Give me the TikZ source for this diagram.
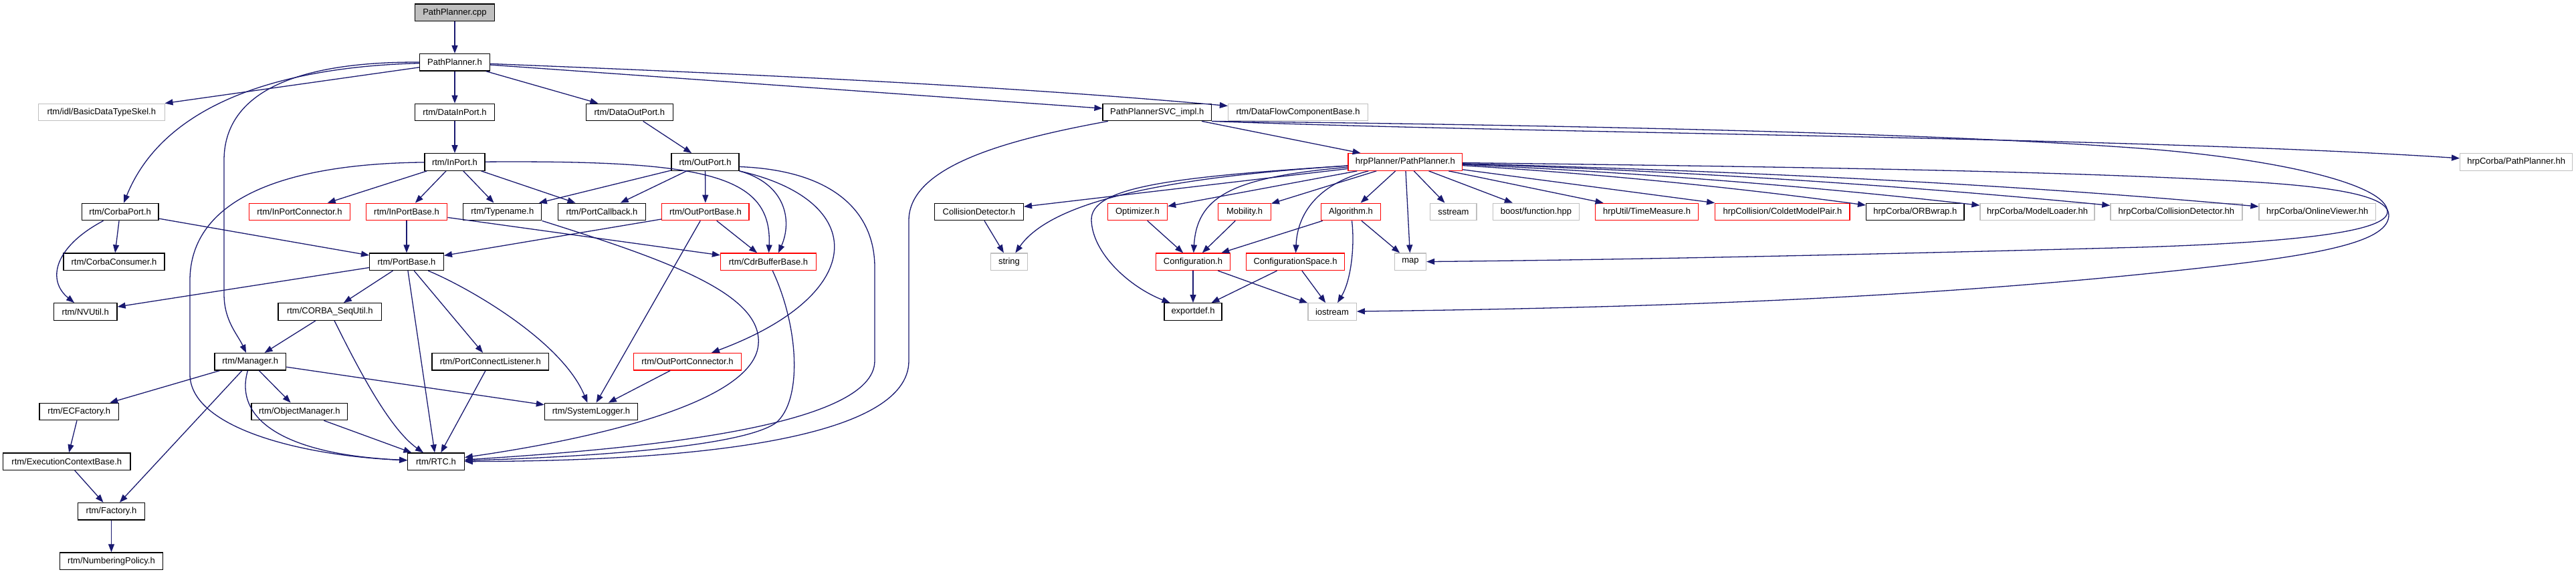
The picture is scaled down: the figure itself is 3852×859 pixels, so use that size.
\documentclass[tikz,border=0pt]{standalone}
\usepackage{fontspec}
\setmainfont{Liberation Sans}
\usetikzlibrary{arrows.meta}
\definecolor{edgecol}{HTML}{191970}
\definecolor{nodered}{HTML}{FF0000}
\definecolor{nodegray}{HTML}{BFBFBF}
\definecolor{rootfill}{HTML}{BFBFBF}
\tikzset{
  nd/.style={draw=black, line width=1.3pt, rectangle, minimum height=25.5pt, inner sep=0pt, fill=white, font=\fontsize{13pt}{15pt}\selectfont},
  rednd/.style={nd, draw=nodered},
  graynd/.style={nd, draw=nodegray},
  rootnd/.style={nd, fill=rootfill},
  edge/.style={draw=edgecol, line width=1.3pt, -{Triangle[length=12pt,width=9pt]}},
}
\begin{document}
\begin{tikzpicture}[x=1pt,y=-1pt]
\useasboundingbox (0,0) rectangle (3852,859);
\fill[white] (0,0) rectangle (3852,859);
% row 0-1
\node[rootnd, minimum width=119pt] (cpp) at (680,18.7) {PathPlanner.cpp};
\node[nd, minimum width=104.4pt] (pph) at (680,93.3) {PathPlanner.h};
% row 2
\node[graynd, minimum width=189.3pt] (basic) at (151.8,168) {rtm/idl/BasicDataTypeSkel.h};
\node[nd, minimum width=119pt] (datain) at (680,168) {rtm/DataInPort.h};
\node[nd, minimum width=130pt] (dataout) at (941.3,168) {rtm/DataOutPort.h};
\node[nd, minimum width=162.5pt] (svc) at (1730.3,168) {PathPlannerSVC\_impl.h};
\node[graynd, minimum width=209pt] (dfcb) at (1941,168) {rtm/DataFlowComponentBase.h};
% row 3
\node[nd, minimum width=90.2pt] (inport) at (680,242.5) {rtm/InPort.h};
\node[nd, minimum width=101pt] (outport) at (1054.5,242.5) {rtm/OutPort.h};
\node[rednd, minimum width=170.5pt] (hpp) at (2101.3,242.5) {hrpPlanner/PathPlanner.h};
\node[graynd, minimum width=168pt] (hcpp) at (3762.6,242.5) {hrpCorba/PathPlanner.hh};
% row 4
\node[nd, minimum width=114.7pt] (corbaport) at (179.7,317) {rtm/CorbaPort.h};
\node[rednd, minimum width=150.4pt] (ipconn) at (448,317) {rtm/InPortConnector.h};
\node[rednd, minimum width=121.5pt] (ipbase) at (608,317) {rtm/InPortBase.h};
\node[nd, minimum width=117pt] (typename) at (751.3,317) {rtm/Typename.h};
\node[nd, minimum width=130.4pt] (portcb) at (900,317) {rtm/PortCallback.h};
\node[rednd, minimum width=130.4pt] (opbase) at (1054.9,317) {rtm/OutPortBase.h};
\node[nd, minimum width=133pt] (colldet) at (1463.9,317) {CollisionDetector.h};
\node[rednd, minimum width=89.3pt] (optim) at (1700.9,317) {Optimizer.h};
\node[rednd, minimum width=78.6pt] (mobil) at (1861,317) {Mobility.h};
\node[rednd, minimum width=88.4pt] (algo) at (2020,317) {Algorithm.h};
\node[graynd, minimum width=69.2pt] (sstream) at (2173.4,317) {sstream};
\node[graynd, minimum width=129pt] (boost) at (2297,317) {boost/function.hpp};
\node[rednd, minimum width=154.5pt] (timem) at (2462.5,317) {hrpUtil/TimeMeasure.h};
\node[rednd, minimum width=201.3pt] (coldet) at (2665.4,317) {hrpCollision/ColdetModelPair.h};
\node[nd, minimum width=146.4pt] (orb) at (2863.8,317) {hrpCorba/ORBwrap.h};
\node[graynd, minimum width=171pt] (modell) at (3046.5,317) {hrpCorba/ModelLoader.hh};
\node[graynd, minimum width=197pt] (cdhh) at (3254.4,317) {hrpCorba/CollisionDetector.hh};
\node[graynd, minimum width=174.6pt] (ovhh) at (3465.3,317) {hrpCorba/OnlineViewer.hh};
% row 5
\node[nd, minimum width=151pt] (corbacons) at (170.5,391.8) {rtm/CorbaConsumer.h};
\node[nd, minimum width=110.7pt] (portbase) at (608,391.8) {rtm/PortBase.h};
\node[rednd, minimum width=143pt] (cdrbuf) at (1149,391.8) {rtm/CdrBufferBase.h};
\node[graynd, minimum width=55pt] (string) at (1509,391.8) {string};
\node[rednd, minimum width=110.7pt] (config) at (1784,391.8) {Configuration.h};
\node[rednd, minimum width=146.5pt] (cspace) at (1937,391.8) {ConfigurationSpace.h};
\node[graynd, minimum width=47pt] (map) at (2109,391.8) {map};
% row 6
\node[nd, minimum width=94.6pt] (nvutil) at (127.7,466.5) {rtm/NVUtil.h};
\node[nd, minimum width=154.5pt] (sequtil) at (493.3,466.5) {rtm/CORBA\_SeqUtil.h};
\node[nd, minimum width=86pt] (exportdef) at (1784,466.5) {exportdef.h};
\node[graynd, minimum width=72.3pt] (iostream) at (1992,466.5) {iostream};
% row 7
\node[nd, minimum width=106.7pt] (manager) at (374.3,541.3) {rtm/Manager.h};
\node[nd, minimum width=174.5pt] (pcl) at (733.3,541.3) {rtm/PortConnectListener.h};
\node[rednd, minimum width=161pt] (opconn) at (1028,541.3) {rtm/OutPortConnector.h};
% row 8
\node[nd, minimum width=118.8pt] (ecf) at (118.3,616) {rtm/ECFactory.h};
\node[nd, minimum width=143.7pt] (objman) at (447.8,616) {rtm/ObjectManager.h};
\node[nd, minimum width=139pt] (syslog) at (884,616) {rtm/SystemLogger.h};
% row 9-11
\node[nd, minimum width=190.6pt] (ecb) at (99.8,690.7) {rtm/ExecutionContextBase.h};
\node[nd, minimum width=84.4pt] (rtc) at (652,690.7) {rtm/RTC.h};
\node[nd, minimum width=100pt] (factory) at (166.5,765.3) {rtm/Factory.h};
\node[nd, minimum width=154.5pt] (numpol) at (166.5,839.7) {rtm/NumberingPolicy.h};

% ---- edges: top part
\draw[edge] (cpp) -- (pph);
\draw[edge] (pph) -- (basic);
\draw[edge] (pph) .. controls (420,100) and (245,155) .. (corbaport);
\draw[edge] (pph) .. controls (420,92) and (335,150) .. (335,240) -- (335,440) .. controls (335,480) and (355,500) .. (manager);
\draw[edge] (pph) -- (datain);
\draw[edge] (pph) -- (dataout);
\draw[edge] (pph) -- (svc);
\draw[edge] (pph) .. controls (1100,110) and (1500,128) .. (dfcb);
\draw[edge] (datain) -- (inport);
\draw[edge] (dataout) -- (outport);
% InPort
\draw[edge] (inport) .. controls (420,245) and (284,300) .. (284,420) -- (284,560) .. controls (284,640) and (450,682) .. (rtc);
\draw[edge] (inport) -- (ipconn);
\draw[edge] (inport) -- (ipbase);
\draw[edge] (inport) -- (typename);
\draw[edge] (inport) -- (portcb);
\draw[edge] (inport) .. controls (1050,240) and (1155,260) .. (cdrbuf);
% OutPort
\draw[edge] (outport) -- (typename);
\draw[edge] (outport) -- (portcb);
\draw[edge] (outport) -- (opbase);
\draw[edge] (outport.south east) .. controls (1175,275) and (1185,330) .. ([xshift=15pt]cdrbuf.north);
\draw[edge] (outport.south east) .. controls (1300,300) and (1300,440) .. (opconn);
\draw[edge] ([yshift=-7pt]outport.east) .. controls (1250,255) and (1308,320) .. (1308,400) -- (1308,540) .. controls (1308,640) and (950,672) .. (rtc);
% into RTC from right
\draw[edge] (typename.south east) .. controls (1000,390) and (1140,440) .. (1134,515) .. controls (1128,600) and (900,655) .. (rtc);
\draw[edge] (cdrbuf) .. controls (1195,490) and (1200,600) .. (1160,633) .. controls (1100,675) and (800,686) .. (rtc);
\draw[edge] (svc) .. controls (1500,210) and (1359,250) .. (1359,330) -- (1359,540) .. controls (1359,655) and (1050,690) .. (rtc);
% SVC
\draw[edge] (svc) -- (hpp);
\draw[edge] (svc.south east) .. controls (2300,200) and (3200,205) .. (hcpp);
\draw[edge] (svc.south east) .. controls (2400,188) and (2900,200) .. (3200,222) .. controls (3400,237) and (3570,275) .. (3570,317) .. controls (3570,345) and (3450,362) .. (3200,370) .. controls (2900,378) and (2500,388) .. (map);
% hrpPlanner/PathPlanner.h
\draw[edge] (hpp) .. controls (2700,250) and (3100,256) .. (3380,273) .. controls (3530,283) and (3572,300) .. (3572,322) .. controls (3572,360) and (3480,380) .. (3300,400) .. controls (2900,445) and (2500,460) .. (iostream);
\draw[edge] (hpp) -- (colldet);
\draw[edge] (hpp) .. controls (1800,262) and (1580,290) .. (string);
\draw[edge] (hpp) -- (optim);
\draw[edge] (hpp) -- (mobil);
\draw[edge] (hpp) .. controls (1850,265) and (1790,290) .. (config);
\draw[edge] (hpp) .. controls (1750,265) and (1630,280) .. (1632,330) .. controls (1634,380) and (1690,430) .. (exportdef);
\draw[edge] (hpp) -- (algo);
\draw[edge] ([xshift=-55pt]hpp.south) .. controls (1970,275) and (1940,320) .. (cspace);
\draw[edge] (hpp) -- (map);
\draw[edge] (hpp) -- (sstream);
\draw[edge] (hpp) -- (boost);
\draw[edge] (hpp) -- (timem);
\draw[edge] (hpp) -- (coldet);
\draw[edge] (hpp) .. controls (2390,260) and (2590,280) .. (orb);
\draw[edge] (hpp) .. controls (2450,258) and (2720,280) .. (modell);
\draw[edge] (hpp) .. controls (2520,256) and (2850,278) .. (cdhh);
\draw[edge] (hpp) .. controls (2600,256) and (3000,275) .. (ovhh);
% hrp lower
\draw[edge] (colldet) -- (string);
\draw[edge] (optim) -- (config);
\draw[edge] (mobil) -- (config);
\draw[edge] (algo) -- (config);
\draw[edge] (algo) -- (map);
\draw[edge] (algo) .. controls (2026,370) and (2020,420) .. (iostream);
\draw[edge] (cspace) -- (exportdef);
\draw[edge] (cspace) -- (iostream);
\draw[edge] (config) -- (exportdef);
\draw[edge] (config) -- (iostream);
% rtm lower left
\draw[edge] (corbaport) -- (corbacons);
\draw[edge] (corbaport) -- (portbase);
\draw[edge] (corbaport) .. controls (80,370) and (70,420) .. (nvutil);
\draw[edge] (portbase) -- (nvutil);
\draw[edge] (portbase) -- (sequtil);
\draw[edge] (portbase) -- (rtc);
\draw[edge] (portbase) -- (pcl);
\draw[edge] (portbase) .. controls (700,430) and (840,510) .. (syslog);
\draw[edge] (ipbase) -- (portbase);
\draw[edge] (ipbase) -- (cdrbuf);
\draw[edge] (opbase) -- (portbase);
\draw[edge] (opbase) -- (cdrbuf);
\draw[edge] (opbase) -- (syslog);
\draw[edge] (opconn) -- (syslog);
\draw[edge] (pcl) -- (rtc);
\draw[edge] (sequtil) -- (manager);
\draw[edge] (sequtil) .. controls (530,540) and (580,640) .. (rtc);
\draw[edge] (manager) -- (ecf);
\draw[edge] (manager) -- (objman);
\draw[edge] (manager) -- (factory);
\draw[edge] (manager) -- (syslog);
\draw[edge] (manager) .. controls (350,625) and (420,680) .. (rtc);
\draw[edge] (objman) -- (rtc);
\draw[edge] (ecf) -- (ecb);
\draw[edge] (ecb) -- (factory);
\draw[edge] (factory) -- (numpol);
\end{tikzpicture}
\end{document}
